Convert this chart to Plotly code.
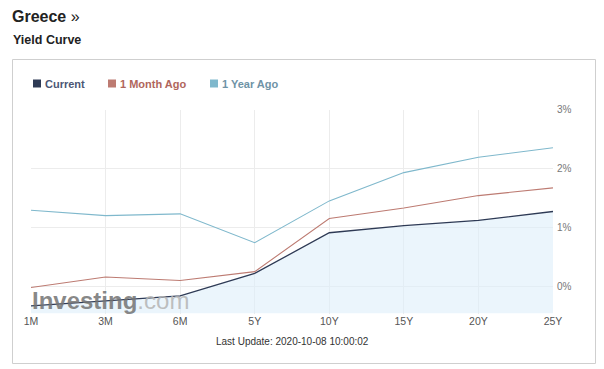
import plotly.graph_objects as go

W, H = 604, 369
OFF = 8  # page body margin offset

categories = ["1M", "3M", "6M", "5Y", "10Y", "15Y", "20Y", "25Y"]
current = [-0.33, -0.25, -0.16, 0.22, 0.91, 1.03, 1.12, 1.27]
month_ago = [-0.02, 0.16, 0.10, 0.25, 1.15, 1.33, 1.54, 1.67]
year_ago = [1.29, 1.20, 1.23, 0.74, 1.45, 1.93, 2.19, 2.35]
y_ticks = [0, 1, 2, 3]
y_tick_labels = ["0%", "1%", "2%", "3%"]
y_min, y_max = -0.46, 3.0

C_CUR = "#2e3a55"
C_MON = "#bd7b72"
C_YEAR = "#7fb8cc"

def px(x):
    return (x - OFF) / W

def py(y):
    return 1 - (y - OFF) / H

fig = go.Figure()

# baseline for area fill (bottom of plot)
fig.add_trace(go.Scatter(x=categories, y=[y_min] * len(categories), mode="lines",
                         line=dict(width=0), hoverinfo="skip", showlegend=False))
fig.add_trace(go.Scatter(x=categories, y=current, mode="lines", fill="tonexty",
                         fillcolor="rgba(222,238,250,0.6)",
                         line=dict(color=C_CUR, width=1.3), name="Current", showlegend=False))
fig.add_trace(go.Scatter(x=categories, y=month_ago, mode="lines",
                         line=dict(color=C_MON, width=1.1), name="1 Month Ago", showlegend=False))
fig.add_trace(go.Scatter(x=categories, y=year_ago, mode="lines",
                         line=dict(color=C_YEAR, width=1.1), name="1 Year Ago", showlegend=False))

fig.update_layout(
    width=W, height=H, autosize=False,
    margin=dict(l=0, r=0, t=0, b=0, pad=0),
    paper_bgcolor="white", plot_bgcolor="white",
    font=dict(family="Liberation Sans, Arial, sans-serif", color="#444"),
    xaxis=dict(domain=[px(31), px(553)], type="category", range=[0, len(categories) - 1],
               automargin=False,
               showgrid=True, gridcolor="#ececec", gridwidth=1, zeroline=False,
               showline=False, ticks="", tickfont=dict(size=10.5, color="#555"),
               fixedrange=True),
    yaxis=dict(domain=[py(313.5), py(109.5)], range=[y_min, y_max], side="right",
               automargin=False,
               tickvals=y_ticks, ticktext=y_tick_labels,
               showgrid=True, gridcolor="#ececec", gridwidth=1, zeroline=False,
               showline=False, ticks="", tickfont=dict(size=10, color="#777"),
               ticklabelstandoff=3, fixedrange=True),
    showlegend=False,
)

shapes = [
    dict(type="rect", xref="paper", yref="paper", x0=px(12.5), x1=px(595.5),
         y0=py(363.5), y1=py(59.5), line=dict(color="#cfcfcf", width=1), layer="below"),
]
legend_items = [("Current", C_CUR, "#4c5775", 33), ("1 Month Ago", C_MON, "#b0665c", 108),
                ("1 Year Ago", C_YEAR, "#6f93a6", 210)]
annotations = []
for label, sq, tc, x in legend_items:
    shapes.append(dict(type="rect", xref="paper", yref="paper", x0=px(x), x1=px(x + 8),
                       y0=py(87.5), y1=py(79.5), fillcolor=sq, line=dict(width=0)))
    annotations.append(dict(text=f"<b>{label}</b>", xref="paper", yref="paper",
                            x=px(x + 10), y=py(83.5), xanchor="left", yanchor="middle",
                            showarrow=False, font=dict(size=11, color=tc)))

annotations += [
    dict(text="<b>Greece</b> »", xref="paper", yref="paper", x=px(10), y=py(16),
         xanchor="left", yanchor="middle", showarrow=False,
         font=dict(size=16, color="#222")),
    dict(text="<b>Yield Curve</b>", xref="paper", yref="paper", x=px(11), y=py(40),
         xanchor="left", yanchor="middle", showarrow=False,
         font=dict(size=12.5, color="#222")),
    dict(text="Last Update: 2020-10-08 10:00:02", xref="paper", yref="paper",
         x=px(292), y=py(341), xanchor="center", yanchor="middle", showarrow=False,
         font=dict(size=10, color="#333")),
    dict(text="<b>Investing</b><span style='color:#b4b4b4;font-weight:normal'>.com</span>",
         xref="paper", yref="paper",
         x=px(30), y=py(300), xanchor="left", yanchor="middle", showarrow=False,
         font=dict(size=24, color="rgba(115,115,115,0.85)",
                   family="Liberation Sans, Arial, sans-serif")),
]
fig.update_layout(shapes=shapes, annotations=annotations)

fig.write_html("out.html")
